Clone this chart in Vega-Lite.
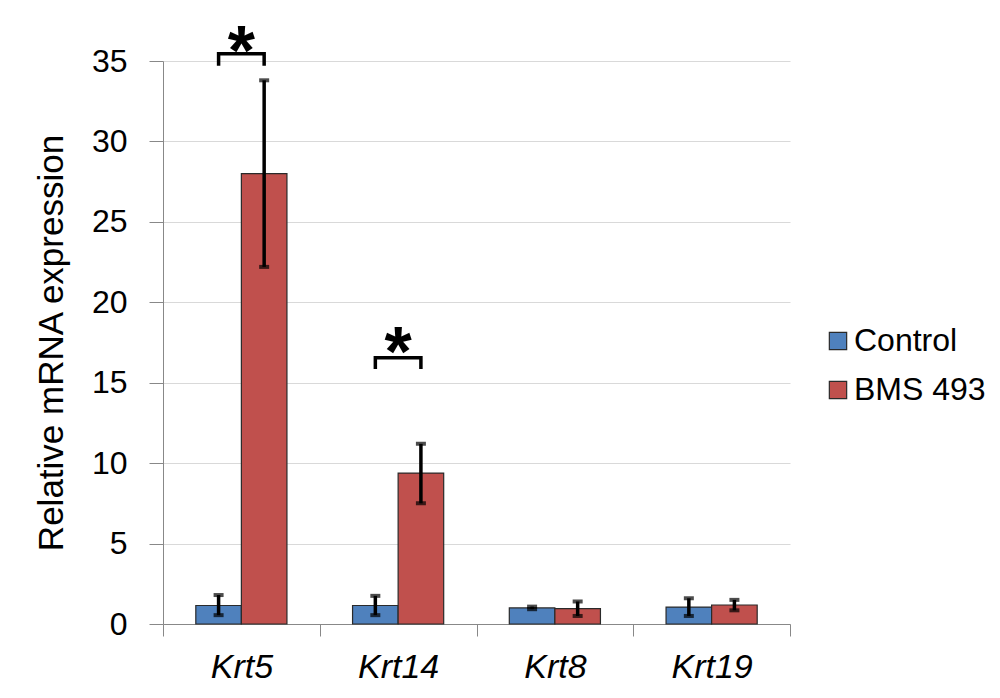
{
  "$schema": "https://vega.github.io/schema/vega-lite/v6.json",
  "width": 627,
  "height": 563,
  "autosize": {"type": "none"},
  "padding": {"left": 163, "top": 61, "right": 210, "bottom": 74},
  "background": "white",
  "config": {
    "view": {"stroke": null},
    "font": "Liberation Sans"
  },
  "datasets": {
    "bars": [
      {"gene": "Krt5", "group": "Control", "value": 1.15, "lo": 0.55, "hi": 1.8},
      {"gene": "Krt5", "group": "BMS 493", "value": 28.0, "lo": 22.2, "hi": 33.8},
      {"gene": "Krt14", "group": "Control", "value": 1.15, "lo": 0.55, "hi": 1.75},
      {"gene": "Krt14", "group": "BMS 493", "value": 9.38, "lo": 7.5, "hi": 11.2},
      {"gene": "Krt8", "group": "Control", "value": 1.0, "lo": 0.92, "hi": 1.08},
      {"gene": "Krt8", "group": "BMS 493", "value": 0.95, "lo": 0.5, "hi": 1.4},
      {"gene": "Krt19", "group": "Control", "value": 1.05, "lo": 0.5, "hi": 1.6},
      {"gene": "Krt19", "group": "BMS 493", "value": 1.18, "lo": 0.85, "hi": 1.5}
    ],
    "brackets": [
      {"gene": "Krt5", "group": "Control", "y": 34.7, "ord": 1, "id": "a"},
      {"gene": "Krt5", "group": "Control", "y": 35.45, "ord": 2, "id": "a"},
      {"gene": "Krt5", "group": "BMS 493", "y": 35.45, "ord": 3, "id": "a"},
      {"gene": "Krt5", "group": "BMS 493", "y": 34.7, "ord": 4, "id": "a"},
      {"gene": "Krt14", "group": "Control", "y": 15.85, "ord": 1, "id": "b"},
      {"gene": "Krt14", "group": "Control", "y": 16.55, "ord": 2, "id": "b"},
      {"gene": "Krt14", "group": "BMS 493", "y": 16.55, "ord": 3, "id": "b"},
      {"gene": "Krt14", "group": "BMS 493", "y": 15.85, "ord": 4, "id": "b"}
    ],
    "stars": [
      {"gene": "Krt5", "y": 34.1, "label": "*"},
      {"gene": "Krt14", "y": 15.4, "label": "*"}
    ]
  },
  "encoding": {
    "x": {
      "field": "gene",
      "type": "nominal",
      "sort": ["Krt5", "Krt14", "Krt8", "Krt19"],
      "scale": {"paddingInner": 0, "paddingOuter": 0},
      "axis": {
        "title": null,
        "labelAngle": 0,
        "labelFont": "Liberation Sans",
        "labelFontStyle": "italic",
        "labelFontSize": 34,
        "labelColor": "#000000",
        "labelPadding": 14,
        "tickBand": "extent",
        "tickSize": 12,
        "tickColor": "#888888",
        "domainColor": "#888888",
        "domainWidth": 1,
        "grid": false
      }
    }
  },
  "layer": [
    {
      "data": {"name": "bars"},
      "mark": {"type": "bar", "stroke": "#2a2a2a", "strokeWidth": 1.2},
      "encoding": {
        "xOffset": {
          "field": "group",
          "type": "nominal",
          "scale": {"domain": ["Control", "BMS 493"], "paddingOuter": 0.72, "paddingInner": 0}
        },
        "y": {
          "field": "value",
          "type": "quantitative",
          "scale": {"domain": [0, 35], "nice": false},
          "axis": {
            "title": "Relative mRNA expression",
            "titleFont": "Liberation Sans",
            "titleFontSize": 35,
            "titleFontWeight": "normal",
            "titleColor": "#000000",
            "titlePadding": 22,
            "values": [0, 5, 10, 15, 20, 25, 30, 35],
            "labelFontSize": 32,
            "labelColor": "#000000",
            "labelPadding": 22,
            "tickSize": 14,
            "tickColor": "#888888",
            "domainColor": "#888888",
            "gridColor": "#d9d9d9",
            "gridWidth": 1.2
          }
        },
        "color": {
          "field": "group",
          "type": "nominal",
          "scale": {"domain": ["Control", "BMS 493"], "range": ["#4F81BD", "#C0504D"]},
          "legend": {
            "title": null,
            "orient": "none",
            "legendX": 659,
            "legendY": 264,
            "symbolType": "square",
            "symbolSize": 300,
            "symbolStrokeColor": "#2a2a2a",
            "symbolStrokeWidth": 1.2,
            "symbolOpacity": 1,
            "labelFontSize": 32,
            "labelColor": "#000000",
            "labelOffset": 0,
            "rowPadding": 17
          }
        }
      }
    },
    {
      "data": {"name": "bars"},
      "mark": {"type": "rule", "color": "#000000", "strokeWidth": 3.5},
      "encoding": {
        "xOffset": {"field": "group", "type": "nominal"},
        "y": {"field": "lo", "type": "quantitative"},
        "y2": {"field": "hi"}
      }
    },
    {
      "data": {"name": "bars"},
      "mark": {"type": "tick", "color": "#000000", "size": 10, "thickness": 4, "orient": "horizontal"},
      "encoding": {
        "xOffset": {"field": "group", "type": "nominal"},
        "y": {"field": "lo", "type": "quantitative"}
      }
    },
    {
      "data": {"name": "bars"},
      "mark": {"type": "tick", "color": "#000000", "size": 10, "thickness": 4, "orient": "horizontal"},
      "encoding": {
        "xOffset": {"field": "group", "type": "nominal"},
        "y": {"field": "hi", "type": "quantitative"}
      }
    },
    {
      "data": {"name": "brackets"},
      "mark": {"type": "line", "color": "#000000", "strokeWidth": 3.5, "clip": false, "strokeJoin": "miter"},
      "encoding": {
        "xOffset": {"field": "group", "type": "nominal"},
        "y": {"field": "y", "type": "quantitative"},
        "detail": {"field": "id"},
        "order": {"field": "ord", "type": "quantitative"}
      }
    },
    {
      "data": {"name": "stars"},
      "mark": {"type": "text", "color": "#000000", "fontSize": 70, "fontWeight": "bold", "font": "Liberation Sans", "baseline": "alphabetic", "align": "center", "clip": false},
      "encoding": {
        "y": {"field": "y", "type": "quantitative"},
        "text": {"field": "label"}
      }
    }
  ]
}
